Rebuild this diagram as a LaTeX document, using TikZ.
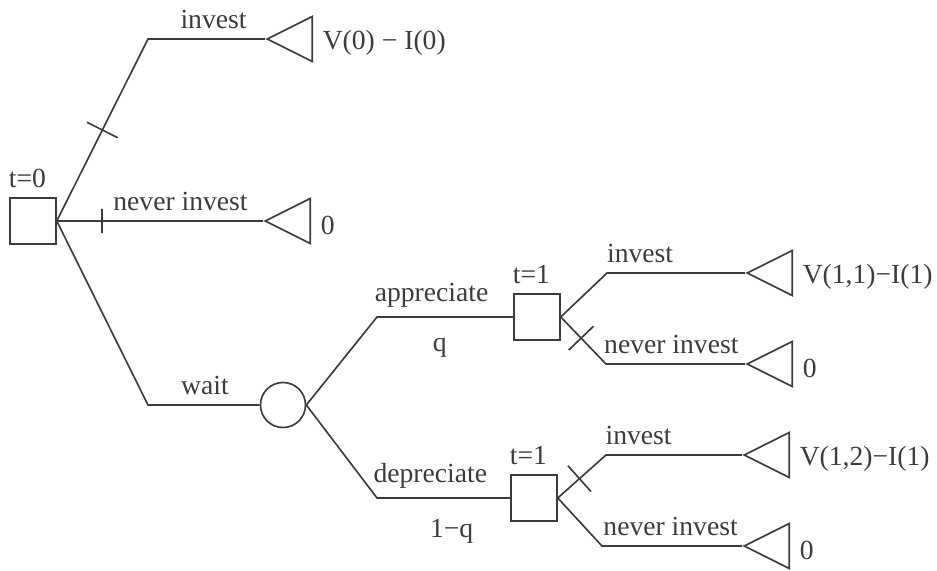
\documentclass[tikz,border=0pt]{standalone}
\usepackage{fontspec}
\setmainfont{Liberation Serif}
\usetikzlibrary{positioning,shapes.geometric}
\definecolor{ink}{RGB}{60,60,60}

\begin{document}
\begin{tikzpicture}[
  x=0.362pt, y=-0.362pt,
  every node/.style={text=ink},
  branch/.style={draw=ink, line width=0.6pt},
  dec/.style={draw=ink, line width=0.6pt, minimum size=16.6pt, inner sep=0pt},
  chance/.style={draw=ink, line width=0.6pt, circle, minimum size=16.3pt, inner sep=0pt},
  payoff/.style={draw=ink, line width=0.6pt, isosceles triangle, isosceles triangle stretches,
    shape border rotate=180, minimum width=16.3pt, minimum height=16.3pt, inner sep=0pt, anchor=apex},
  barmark/.style={draw, sloped, inner sep=0pt, outer sep=0pt, minimum width=0pt, minimum height=12.5pt},
  pay/.style={right=0pt of #1, yshift=-1.5pt}
]
\useasboundingbox (0,0) rectangle (937,571);
\node[dec] (T0) at (33,221) {};
\node[above=0pt of T0, xshift=-2pt] (t0) {t=0};
\node[chance] (C) at (283,405) {};
\node[dec] (S1) at (537,317) {};
\node[above=0pt of S1, xshift=-2pt] (t1a) {t=1};
\node[dec] (S2) at (534,498) {};
\node[above=0pt of S2, xshift=-2pt] (t1b) {t=1};
\node[payoff] (P1) at (265,39) {};
\node[payoff] (P2) at (263,221) {};
\node[payoff] (P3) at (745,273) {};
\node[payoff] (P4) at (745,364) {};
\node[payoff] (P5) at (742,455) {};
\node[payoff] (P6) at (742,546) {};
\node[pay=P1] (v1) {V(0) − I(0)};
\node[pay=P2] (v2) {0};
\node[pay=P3] (v3) {V(1,1)−I(1)};
\node[pay=P4] (v4) {0};
\node[pay=P5] (v5) {V(1,2)−I(1)};
\node[pay=P6] (v6) {0};
\coordinate (k1) at (148,39);
\coordinate (k3) at (148,405);
\coordinate (k4) at (377,317);
\coordinate (k5) at (377,498);
\coordinate (k6) at (607,273);
\coordinate (k7) at (606,364);
\coordinate (k8) at (606,455);
\coordinate (k9) at (602,546);
\draw[branch] (T0.east) -- node[barmark, pos=.5] {} (k1) -- node[above, pos=.56] {invest} (P1.apex);
\draw[branch] (T0.east) -- node[barmark, pos=.22, minimum height=8.7pt] {} node[above, pos=.6] {never invest} (P2.apex);
\draw[branch] (T0.east) -- (k3) -- node[above, pos=.51] {wait} (C.west);
\draw[branch] (C.east) -- (k4) -- node[above, pos=.4] {appreciate} node[below=4pt, pos=.46] {q} (S1.west);
\draw[branch] (C.east) -- (k5) -- node[above, pos=.4] {depreciate} node[below=4pt, pos=.56] {1−q} (S2.west);
\draw[branch] (S1.east) -- (k6) -- node[above, pos=.24] {invest} (P3.apex);
\draw[branch] (S1.east) -- node[barmark, pos=.45] {} (k7) -- node[above, pos=.47] {never invest} (P4.apex);
\draw[branch] (S2.east) -- node[barmark, pos=.45] {} (k8) -- node[above, pos=.24] {invest} (P5.apex);
\draw[branch] (S2.east) -- (k9) -- node[above, pos=.49] {never invest} (P6.apex);
\end{tikzpicture}
\end{document}
